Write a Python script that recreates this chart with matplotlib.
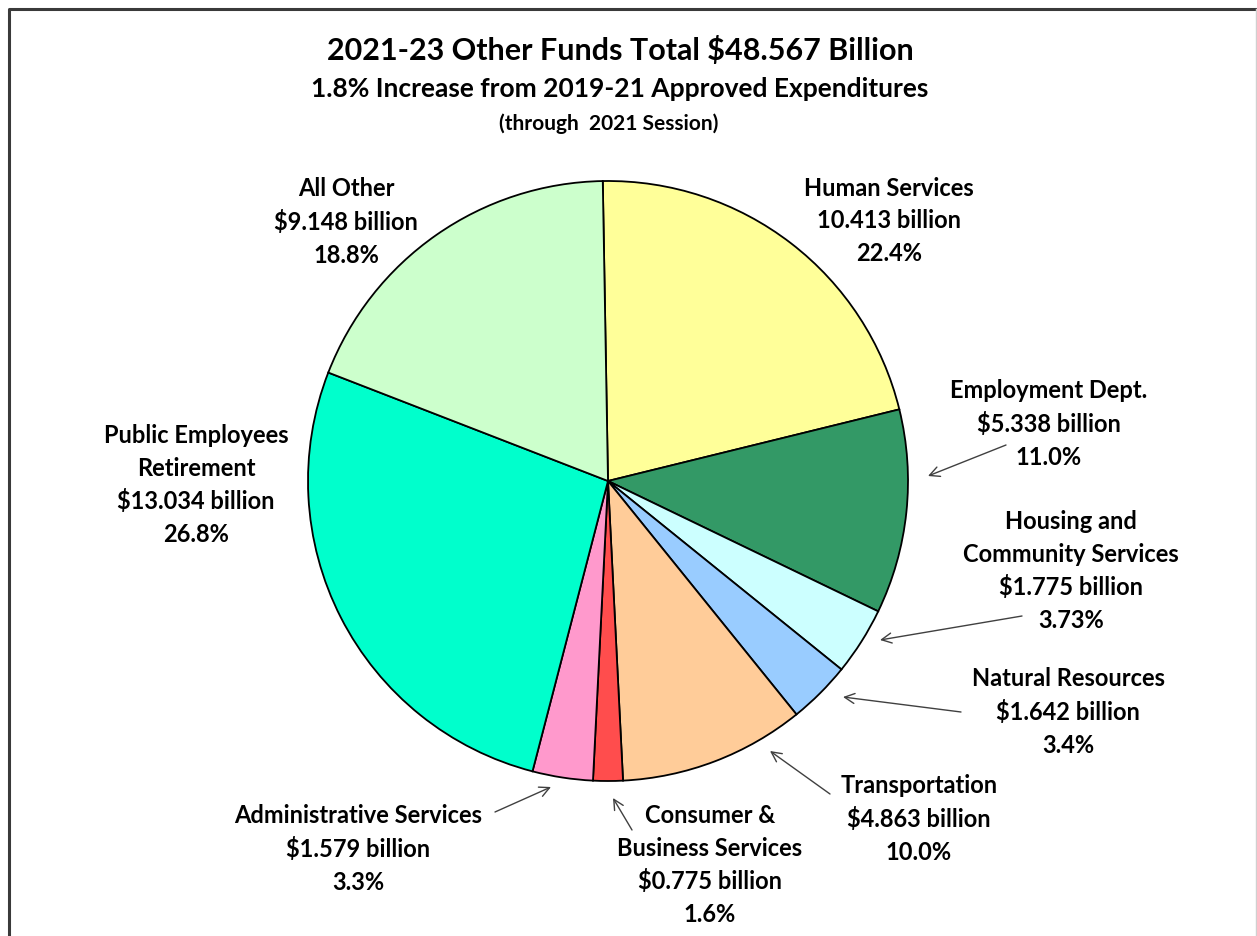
import numpy as np
import matplotlib
matplotlib.use("Agg")
import matplotlib.pyplot as plt
from matplotlib.lines import Line2D

plt.rcParams['font.family'] = ['Lato', 'DejaVu Sans']

# Agency program areas, 2021-23 other funds (billions of dollars)
categories = ["Human Services", "Employment Dept.", "Housing and\nCommunity Services",
              "Natural Resources", "Transportation", "Consumer &\nBusiness Services",
              "Administrative Services", "Public Employees\nRetirement", "All Other"]
amounts = [10.413, 5.338, 1.775, 1.642, 4.863, 0.775, 1.579, 13.034, 9.148]
amount_text = ["10.413 billion", "$5.338 billion", "$1.775 billion", "$1.642 billion",
               "$4.863 billion", "$0.775 billion", "$1.579 billion", "$13.034 billion",
               "$9.148 billion"]
percent_text = ["22.4%", "11.0%", "3.73%", "3.4%", "10.0%", "1.6%", "3.3%", "26.8%", "18.8%"]
colors = ["#FFFF99", "#339966", "#CCFFFF", "#99CCFF", "#FFCC99", "#FF4D4D",
          "#FF99CC", "#00FFCC", "#CCFFCC"]

W, H = 1257, 937
fig = plt.figure(figsize=(W / 100, H / 100), dpi=100)
ax = fig.add_axes([0, 0, 1, 1])
ax.set_xlim(0, W)
ax.set_ylim(0, H)
ax.set_aspect('equal')
ax.axis('off')

cx, cy, R = 608, H - 482, 300
ax.pie(amounts, colors=colors, startangle=91, counterclock=False,
       center=(cx, cy), radius=R,
       wedgeprops=dict(edgecolor='black', linewidth=1.3))
ax.set_xlim(0, W)
ax.set_ylim(0, H)

# Titles
ax.text(620, H - 50, "2021-23 Other Funds Total $48.567 Billion", ha='center', va='center',
        fontsize=22, fontweight='bold')
ax.text(620, H - 89, "1.8% Increase from 2019-21 Approved Expenditures", ha='center',
        va='center', fontsize=19, fontweight='bold')
ax.text(609, H - 124, "(through  2021 Session)", ha='center', va='center',
        fontsize=15, fontweight='bold')

# Label placement (pixel positions of label centres) and arrow geometry
label_pos = [(889, 221), (1049, 424), (1071, 571), (1068, 712), (919, 819),
             (710, 865), (358, 849), (196, 485), (346, 222)]
arrows = {1: ((1006, 446), (928, 477)),
          2: ((1022, 617), (880, 641)),
          3: ((961, 713), (843, 698)),
          4: ((830, 795), (770, 752)),
          5: ((632, 831), (613, 799)),
          6: ((495, 813), (551, 788))}

for i, (name, amt, pct) in enumerate(zip(categories, amount_text, percent_text)):
    x, y = label_pos[i]
    ax.text(x, H - y, f"{name}\n{amt}\n{pct}", ha='center', va='center',
            fontsize=17, fontweight='bold', linespacing=1.49)

for i, (tail, tip) in arrows.items():
    ax.annotate("", xy=(tip[0], H - tip[1]), xytext=(tail[0], H - tail[1]),
                arrowprops=dict(arrowstyle='->', color='#404040', lw=1.0,
                                mutation_scale=18, shrinkA=0, shrinkB=0))

# Outer frame
fig.add_artist(Line2D([9 / W, 9 / W, 1256 / W], [0, 1 - 10 / H, 1 - 10 / H],
                      transform=fig.transFigure, color='#3a3a3a', lw=2.2))
fig.add_artist(Line2D([1256 / W, 1256 / W], [1 - 10 / H, 0],
                      transform=fig.transFigure, color='#d0d0d0', lw=1))

fig.savefig("out.png", dpi=100, facecolor='white')
